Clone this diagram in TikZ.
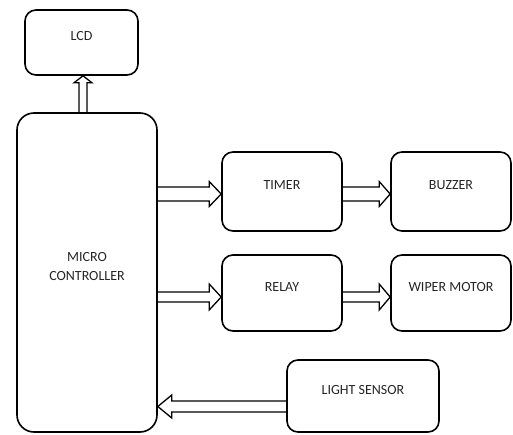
\documentclass[tikz,border=0pt]{standalone}
\usepackage{fontspec}
\setmainfont{Carlito}
\usetikzlibrary{calc}
\tikzset{
  blockbox/.style={draw, line width=1.6pt, rounded corners=11pt, inner sep=0pt,
    font=\fontsize{14}{16.5}\selectfont, text=black!85},
  arrowline/.style={draw, line width=1.3pt, line join=miter}
}
\newcommand\lifted[1]{\raisebox{6pt}[\height][\depth]{#1}}
% #1 shaft half width, #2 head half width, #3 head length, #4 from, #5 to
\newcommand\blkarrow[5]{%
  \draw[arrowline] let \p1=(#4), \p2=(#5), \n1={atan2(\y2-\y1,\x2-\x1)} in
    ($(\p1)+(\n1+90:#1)$) -- ($(\p2)+(\n1:-#3)+(\n1+90:#1)$)
    -- ($(\p2)+(\n1:-#3)+(\n1+90:#2)$) -- (\p2)
    -- ($(\p2)+(\n1:-#3)+(\n1-90:#2)$) -- ($(\p2)+(\n1:-#3)+(\n1-90:#1)$)
    -- ($(\p1)+(\n1-90:#1)$);}
\begin{document}
\begin{tikzpicture}[x=1pt, y=1pt]
\useasboundingbox (0,0) rectangle (513,-434);

\node[blockbox, minimum width=113pt, minimum height=65pt] (lcd) at (81.5,-42.5) {\lifted{LCD}};
\node[blockbox, rounded corners=17pt, minimum width=140pt, minimum height=319pt] (mc) at (87,-272.5)
  {\raisebox{5pt}[\height][\depth]{\begin{tabular}{@{}c@{}}MICRO\\[2.5pt]CONTROLLER\end{tabular}}};
\node[blockbox, minimum width=120pt, minimum height=79pt] (timer) at (282,-191.5) {\lifted{TIMER}};
\node[blockbox, minimum width=120pt, minimum height=79pt] (buzzer) at (451,-191.5) {\lifted{BUZZER}};
\node[blockbox, minimum width=120pt, minimum height=76pt] (relay) at (282,-293) {\lifted{RELAY}};
\node[blockbox, minimum width=120pt, minimum height=76pt] (wiper) at (451,-293) {\lifted{WIPER MOTOR}};
\node[blockbox, minimum width=152pt, minimum height=72pt] (ls) at (363,-396) {\lifted{LIGHT SENSOR}};

% connector end points on the node borders
\coordinate (lcdIn) at ($(lcd.south)+(1.5,0)$);
\coordinate (mcUp) at (mc.north -| lcdIn);
\coordinate (timerIn) at ($(timer.west)+(0,-2.5)$);
\coordinate (mcT) at (mc.east |- timerIn);
\coordinate (timerOut) at (timer.east |- timerIn);
\coordinate (buzzerIn) at (buzzer.west |- timerIn);
\coordinate (relayIn) at ($(relay.west)+(0,-4)$);
\coordinate (mcR) at (mc.east |- relayIn);
\coordinate (relayOut) at (relay.east |- relayIn);
\coordinate (wiperIn) at (wiper.west |- relayIn);
\coordinate (lsOut) at ($(ls.west)+(0,-10.5)$);
\coordinate (mcL) at (mc.east |- lsOut);

\blkarrow{4pt}{9pt}{7pt}{mcUp}{lcdIn}
\blkarrow{7pt}{12.5pt}{12pt}{mcT}{timerIn}
\blkarrow{7pt}{12.5pt}{11pt}{timerOut}{buzzerIn}
\blkarrow{5pt}{13pt}{12pt}{mcR}{relayIn}
\blkarrow{5pt}{13pt}{11pt}{relayOut}{wiperIn}
\blkarrow{5.5pt}{11.5pt}{14pt}{lsOut}{mcL}
\end{tikzpicture}
\end{document}
